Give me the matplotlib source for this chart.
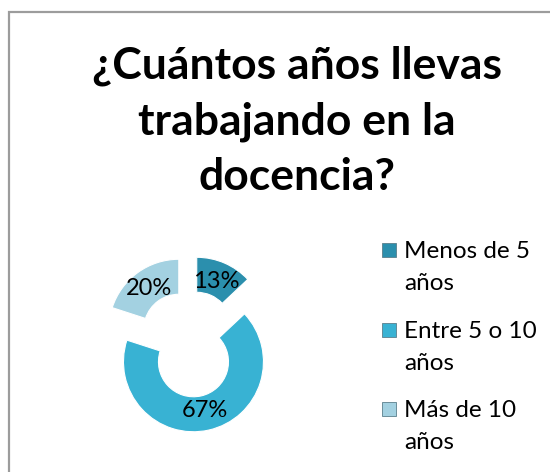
import matplotlib
matplotlib.use('Agg')
import matplotlib.pyplot as plt
from matplotlib.patches import Rectangle

# data
categorias = ['Menos de 5\naños', 'Entre 5 o 10\naños', 'Más de 10\naños']
porcentajes = [13, 67, 20]
colores = ['#2b8fad', '#38b2d3', '#a3d1e1']
titulo = ['¿Cuántos años llevas', 'trabajando en la', 'docencia?']

W, H = 550, 472
fig = plt.figure(figsize=(W / 100, H / 100), dpi=100)
fig.patch.set_facecolor('white')

# grey frame (only top and left are visible in the picture)
fig.patches.append(Rectangle((9 / W, -0.2), 1.2, 1.2 - 12 / H, transform=fig.transFigure,
                             fill=False, edgecolor='#9c9c9c', lw=1.6))

# title
for i, linea in enumerate(titulo):
    fig.text(297 / W, 1 - (78 + i * 56) / H, linea, ha='center', va='baseline',
             fontsize=32, fontweight='bold', family='Lato', color='black')

# donut
cx, cy, r = 189.5, 344, 70
ax = fig.add_axes([(cx - 2 * r) / W, (H - cy - 2 * r) / H, 4 * r / W, 4 * r / H])
wedges, texts, autotexts = ax.pie(porcentajes, colors=colores, startangle=90, counterclock=False,
                                  explode=[0.26, 0.26, 0.26], autopct='%1.0f%%', pctdistance=0.72,
                                  wedgeprops=dict(width=0.5, edgecolor='#ffffff', linewidth=0.8),
                                  textprops=dict(fontsize=17, family='Lato', color='black'))
ax.set_xlim(-2, 2)
ax.set_ylim(-2, 2)
ax.axis('off')

# legend drawn by hand so the square sits on the first line
for i, (lab, col) in enumerate(zip(categorias, colores)):
    base = 258 + i * 79.5
    fig.patches.append(Rectangle((382 / W, 1 - (base - 1) / H), 14 / W, 14 / H,
                                 transform=fig.transFigure, facecolor=col, edgecolor='#5a7f8c', lw=0.6))
    for j, parte in enumerate(lab.split('\n')):
        fig.text(404 / W, 1 - (base + j * 32) / H, parte, ha='left', va='baseline',
                 fontsize=17.5, family='Lato', color='black')

plt.savefig('out.png', dpi=100)
